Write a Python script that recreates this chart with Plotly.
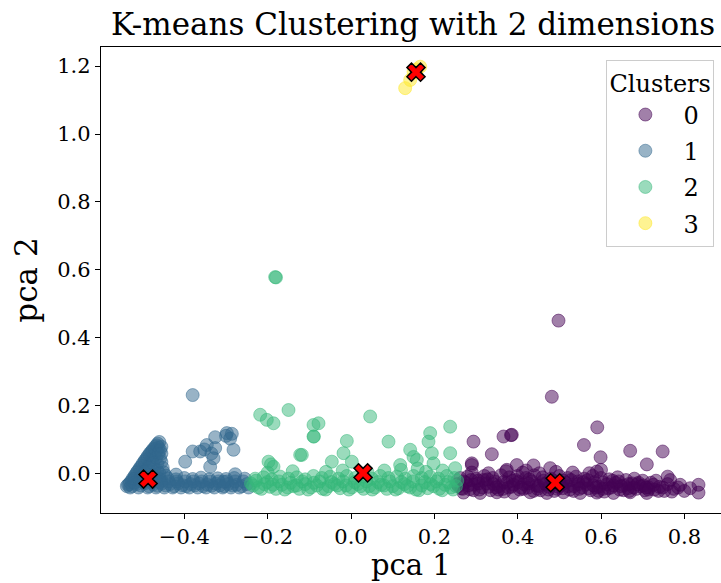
import plotly.graph_objects as go

# ---- cluster members (pca 1, pca 2) ----
cluster0_points = [
    # dense band
    (0.255, -0.030), (0.265, -0.042), (0.275, -0.025), (0.285, -0.045), (0.295, -0.032),
    (0.305, -0.020), (0.315, -0.040), (0.325, -0.028), (0.335, -0.048), (0.345, -0.022),
    (0.355, -0.036), (0.365, -0.044), (0.375, -0.026), (0.385, -0.038), (0.395, -0.018),
    (0.405, -0.046), (0.415, -0.030), (0.425, -0.040), (0.435, -0.022), (0.445, -0.034),
    (0.455, -0.048), (0.465, -0.028), (0.475, -0.038), (0.485, -0.020), (0.495, -0.044),
    (0.505, -0.032), (0.515, -0.026), (0.525, -0.046), (0.535, -0.036), (0.545, -0.022),
    (0.555, -0.040), (0.565, -0.030), (0.575, -0.048), (0.585, -0.024), (0.595, -0.038),
    (0.605, -0.044), (0.615, -0.030), (0.625, -0.040), (0.635, -0.026), (0.645, -0.046),
    (0.655, -0.034), (0.665, -0.042), (0.675, -0.028), (0.685, -0.044), (0.695, -0.036),
    (0.705, -0.048), (0.715, -0.040), (0.728, -0.046), (0.740, -0.038), (0.752, -0.050),
    (0.262, -0.012), (0.280, -0.008), (0.300, -0.014), (0.320, -0.006), (0.340, -0.012),
    (0.360, -0.004), (0.380, -0.010), (0.400, -0.006), (0.420, -0.012), (0.440, -0.004),
    (0.460, -0.010), (0.480, -0.014), (0.500, -0.006), (0.520, -0.012), (0.540, -0.008),
    (0.560, -0.014), (0.580, -0.006), (0.600, -0.012), (0.620, -0.016), (0.640, -0.010),
    (0.660, -0.018), (0.680, -0.014), (0.700, -0.020), (0.720, -0.026),
    (0.270, -0.055), (0.310, -0.056), (0.350, -0.054), (0.390, -0.056), (0.430, -0.054),
    (0.470, -0.056), (0.510, -0.054), (0.550, -0.056), (0.590, -0.055), (0.630, -0.056),
    (0.670, -0.054), (0.710, -0.056), (0.760, -0.030), (0.775, -0.044),
    (0.290, 0.004), (0.330, 0.002), (0.372, 0.008), (0.412, 0.004), (0.452, 0.002),
    (0.492, 0.006), (0.532, 0.004), (0.572, 0.002),
    (0.258, -0.036), (0.270, -0.022), (0.282, -0.034), (0.294, -0.048), (0.306, -0.028),
    (0.318, -0.018), (0.330, -0.038), (0.342, -0.030), (0.354, -0.046), (0.366, -0.024),
    (0.378, -0.040), (0.390, -0.032), (0.402, -0.024), (0.414, -0.044), (0.426, -0.028),
    (0.438, -0.050), (0.450, -0.036), (0.462, -0.020), (0.474, -0.046), (0.486, -0.030),
    (0.498, -0.038), (0.510, -0.020), (0.522, -0.036), (0.534, -0.050), (0.546, -0.030),
    (0.558, -0.024), (0.570, -0.042), (0.582, -0.034), (0.594, -0.050), (0.606, -0.026),
    (0.618, -0.042), (0.630, -0.034), (0.642, -0.022), (0.654, -0.048), (0.666, -0.030),
    (0.678, -0.040), (0.690, -0.026), (0.702, -0.034), (0.714, -0.046), (0.726, -0.032),
    (0.738, -0.050), (0.748, -0.040),
    (0.268, -0.044), (0.288, -0.018), (0.308, -0.046), (0.328, -0.016), (0.348, -0.040),
    (0.368, -0.052), (0.388, -0.020), (0.408, -0.040), (0.428, -0.016), (0.448, -0.044),
    (0.468, -0.030), (0.488, -0.050), (0.508, -0.042), (0.528, -0.018), (0.548, -0.044),
    (0.568, -0.018), (0.588, -0.040), (0.608, -0.052), (0.628, -0.020), (0.648, -0.036),
    (0.668, -0.050), (0.688, -0.030), (0.708, -0.040), (0.732, -0.020), (0.770, -0.052),
    (0.785, -0.040),
    # sparse points above the band
    (0.498, 0.451), (0.482, 0.227), (0.591, 0.137), (0.559, 0.085), (0.599, 0.049),
    (0.670, 0.068), (0.748, 0.066), (0.710, 0.028), (0.294, 0.095), (0.366, 0.110),
    (0.384, 0.114), (0.338, 0.058), (0.438, 0.025), (0.478, 0.017), (0.398, 0.026),
    (0.590, 0.007), (0.766, -0.018), (0.790, -0.032), (0.834, -0.032), (0.834, -0.055),
    (0.814, -0.042), (0.290, 0.026), (0.386, 0.115), (0.290, 0.031), (0.374, 0.012),
    (0.600, 0.012), (0.420, 0.010), (0.760, -0.008), (0.800, -0.050),
]

cluster1_points = [
    # left wedge
    (-0.538, -0.036), (-0.530, -0.025), (-0.524, -0.014), (-0.518, -0.003), (-0.512, 0.008),
    (-0.506, 0.019), (-0.500, 0.030), (-0.494, 0.041), (-0.488, 0.052), (-0.482, 0.062),
    (-0.476, 0.071), (-0.470, 0.080), (-0.464, 0.089), (-0.460, 0.094),
    (-0.512, -0.020), (-0.500, -0.005), (-0.492, 0.012), (-0.485, 0.025), (-0.478, 0.040),
    (-0.472, 0.055), (-0.466, 0.068), (-0.462, 0.078), (-0.490, -0.018), (-0.480, -0.002),
    (-0.472, 0.014), (-0.465, 0.030), (-0.458, 0.046), (-0.470, -0.015), (-0.460, 0.002),
    (-0.452, 0.018), (-0.455, -0.020), (-0.445, -0.005),
    (-0.532, -0.030), (-0.526, -0.020), (-0.520, -0.008), (-0.514, 0.004), (-0.508, 0.014),
    (-0.502, 0.024), (-0.496, 0.036), (-0.490, 0.046), (-0.484, 0.057), (-0.478, 0.066),
    (-0.472, 0.074), (-0.466, 0.084), (-0.505, -0.010), (-0.495, 0.006), (-0.485, 0.018),
    (-0.475, 0.032), (-0.468, 0.048), (-0.462, 0.060), (-0.458, 0.070), (-0.455, 0.080),
    (-0.475, -0.005), (-0.465, 0.010), (-0.455, 0.035), (-0.450, 0.005), (-0.455, 0.060),
    # band
    (-0.535, -0.032), (-0.525, -0.036), (-0.515, -0.030), (-0.505, -0.034), (-0.495, -0.028),
    (-0.485, -0.036), (-0.475, -0.031), (-0.465, -0.035), (-0.455, -0.029), (-0.445, -0.034),
    (-0.435, -0.030), (-0.425, -0.036), (-0.415, -0.028), (-0.405, -0.033), (-0.395, -0.036),
    (-0.385, -0.030), (-0.375, -0.034), (-0.365, -0.028), (-0.355, -0.036), (-0.345, -0.031),
    (-0.335, -0.035), (-0.325, -0.029), (-0.315, -0.034), (-0.305, -0.036), (-0.295, -0.030),
    (-0.285, -0.034), (-0.275, -0.032), (-0.262, -0.036), (-0.250, -0.030),
    (-0.520, -0.014), (-0.500, -0.016), (-0.480, -0.012), (-0.460, -0.015), (-0.440, -0.013),
    (-0.420, -0.016), (-0.400, -0.012), (-0.380, -0.015), (-0.360, -0.011), (-0.340, -0.016),
    (-0.320, -0.013), (-0.300, -0.015), (-0.280, -0.012), (-0.255, -0.014),
    (-0.530, -0.040), (-0.520, -0.026), (-0.510, -0.040), (-0.498, -0.024), (-0.488, -0.040),
    (-0.478, -0.024), (-0.468, -0.040), (-0.458, -0.024), (-0.448, -0.040), (-0.438, -0.022),
    (-0.428, -0.040), (-0.418, -0.022), (-0.408, -0.040), (-0.398, -0.022), (-0.388, -0.040),
    (-0.378, -0.022), (-0.368, -0.040), (-0.358, -0.022), (-0.348, -0.040), (-0.338, -0.022),
    (-0.328, -0.040), (-0.318, -0.022), (-0.308, -0.040), (-0.298, -0.022), (-0.288, -0.040),
    (-0.278, -0.022), (-0.268, -0.040), (-0.258, -0.022), (-0.246, -0.040),
    # sparse points above the band
    (-0.380, 0.232), (-0.326, 0.108), (-0.298, 0.120), (-0.286, 0.118), (-0.290, 0.104),
    (-0.282, 0.071), (-0.346, 0.085), (-0.326, 0.076), (-0.380, 0.066), (-0.362, 0.066),
    (-0.330, 0.046), (-0.398, 0.036), (-0.338, 0.021), (-0.278, -0.001), (-0.306, -0.023),
    (-0.352, 0.072), (-0.335, 0.060), (-0.300, 0.112), (-0.420, -0.002),
]

cluster2_points = [
    # band
    (-0.235, -0.034), (-0.222, -0.040), (-0.208, -0.030), (-0.194, -0.038), (-0.180, -0.044),
    (-0.166, -0.032), (-0.152, -0.040), (-0.138, -0.036), (-0.124, -0.044), (-0.110, -0.030),
    (-0.096, -0.040), (-0.082, -0.034), (-0.068, -0.044), (-0.054, -0.036), (-0.040, -0.030),
    (-0.026, -0.042), (-0.012, -0.034), (0.002, -0.040), (0.016, -0.030), (0.030, -0.044),
    (0.044, -0.036), (0.058, -0.040), (0.072, -0.032), (0.086, -0.044), (0.100, -0.036),
    (0.114, -0.042), (0.128, -0.030), (0.142, -0.040), (0.156, -0.046), (0.170, -0.034),
    (0.184, -0.042), (0.198, -0.036), (0.212, -0.044), (0.226, -0.032), (0.240, -0.040),
    (0.252, -0.036),
    (-0.230, -0.014), (-0.210, -0.010), (-0.190, -0.016), (-0.170, -0.008), (-0.150, -0.014),
    (-0.130, -0.010), (-0.110, -0.016), (-0.090, -0.006), (-0.070, -0.012), (-0.050, -0.008),
    (-0.030, -0.014), (-0.010, -0.006), (0.010, -0.012), (0.030, -0.008), (0.050, -0.014),
    (0.070, -0.006), (0.090, -0.012), (0.110, -0.008), (0.130, -0.014), (0.150, -0.006),
    (0.170, -0.012), (0.190, -0.008), (0.210, -0.014), (0.230, -0.006), (0.248, -0.012),
    (-0.240, -0.028), (-0.228, -0.020), (-0.215, -0.044), (-0.201, -0.024), (-0.187, -0.032),
    (-0.173, -0.022), (-0.159, -0.046), (-0.145, -0.026), (-0.131, -0.034), (-0.117, -0.022),
    (-0.103, -0.046), (-0.089, -0.026), (-0.075, -0.022), (-0.061, -0.046), (-0.047, -0.024),
    (-0.033, -0.034), (-0.019, -0.022), (-0.005, -0.046), (0.009, -0.024), (0.023, -0.036),
    (0.037, -0.022), (0.051, -0.046), (0.065, -0.024), (0.079, -0.034), (0.093, -0.022),
    (0.107, -0.046), (0.121, -0.024), (0.135, -0.036), (0.149, -0.022), (0.163, -0.048),
    (0.177, -0.024), (0.191, -0.030), (0.205, -0.022), (0.219, -0.048), (0.233, -0.024),
    (0.245, -0.046), (0.255, -0.020),
    (-0.200, 0.004), (-0.140, 0.008), (-0.060, 0.006), (0.040, 0.004), (0.080, 0.010),
    (0.120, 0.012), (0.180, 0.006), (0.220, 0.010), (0.160, 0.016), (-0.020, 0.010),
    # sparse points above the band
    (-0.182, 0.579), (-0.180, 0.578),
    (-0.218, 0.174), (-0.202, 0.159), (-0.186, 0.149), (-0.150, 0.188), (-0.090, 0.144),
    (-0.090, 0.110), (-0.122, 0.056), (-0.198, 0.036), (-0.186, 0.021), (-0.118, 0.056),
    (-0.078, 0.149), (-0.089, 0.110), (-0.010, 0.097), (-0.018, 0.061), (-0.046, 0.036),
    (0.002, 0.036), (0.046, 0.169), (0.090, 0.095), (0.118, 0.026), (0.142, 0.071),
    (0.158, 0.041), (0.190, 0.120), (0.186, 0.095), (0.194, 0.061), (0.238, 0.139),
    (0.238, 0.061), (0.198, 0.031), (0.250, 0.017), (-0.192, 0.028), (0.150, 0.050),
]

cluster3_points = [
    (0.130, 1.135), (0.142, 1.159), (0.166, 1.198), (0.150, 1.183), (0.158, 1.190),
]

# ---- k-means centroids ----
centroid_x = [0.490, -0.487, 0.029, 0.156]
centroid_y = [-0.026, -0.015, 0.003, 1.182]

cluster_labels = ["0", "1", "2", "3"]
cluster_colors = [(68, 1, 84), (49, 104, 142), (53, 183, 121), (253, 231, 37)]
cluster_points = [cluster0_points, cluster1_points, cluster2_points, cluster3_points]

x_ticks = [-0.4, -0.2, 0.0, 0.2, 0.4, 0.6, 0.8]
y_ticks = [0.0, 0.2, 0.4, 0.6, 0.8, 1.0, 1.2]

SERIF = "DejaVu Serif"

fig = go.Figure()

for label, (r, g, b), pts in zip(cluster_labels, cluster_colors, cluster_points):
    xs = [p[0] for p in pts]
    ys = [p[1] for p in pts]
    fig.add_trace(go.Scatter(
        x=xs, y=ys, mode="markers", name=label, legendgroup=label,
        marker=dict(size=13, color=f"rgba({r},{g},{b},0.5)",
                    line=dict(width=1, color=f"rgba({r},{g},{b},0.5)")),
    ))

fig.add_trace(go.Scatter(
    x=centroid_x, y=centroid_y, mode="markers", showlegend=False,
    marker=dict(symbol="x", size=16, color="red",
                line=dict(width=1.5, color="black")),
))

axis_common = dict(
    showgrid=False, zeroline=False, showline=True, linecolor="black", linewidth=1.3,
    ticks="outside", ticklen=5, tickwidth=1.2, tickcolor="black",
    tickfont=dict(family=SERIF, size=21, color="black"),
    tickformat=".1f",
)

fig.update_layout(
    width=721, height=583,
    margin=dict(l=101, r=0, t=47, b=70),
    paper_bgcolor="white", plot_bgcolor="white",
    font=dict(family=SERIF, color="black"),
    title=dict(text="K-means Clustering with 2 dimensions",
               font=dict(family=SERIF, size=31, color="black"),
               x=(101 + 725) / 2 / 721, xanchor="center",
               yref="container", y=1 - 13 / 583, yanchor="top"),
    xaxis=dict(range=[-0.6, 0.888], tickvals=x_ticks, mirror=True, **axis_common),
    yaxis=dict(range=[-0.115, 1.256], tickvals=y_ticks, mirror=False,
               title=dict(text="pca 2", font=dict(family=SERIF, size=31), standoff=10),
               **axis_common),
    legend=dict(title=dict(text="Clusters", font=dict(family=SERIF, size=24), side="top center"),
                font=dict(family=SERIF, size=24),
                tracegroupgap=2, itemwidth=66,
                x=0.989, xanchor="right", y=0.972, yanchor="top",
                bgcolor="white", bordercolor="#cccccc", borderwidth=1.2),
)

# x-axis label, sitting on the bottom edge below the tick labels
fig.add_annotation(
    text="pca 1", xref="paper", yref="paper", x=0.5, y=-(582.5 - 513) / 466,
    xanchor="center", yanchor="bottom", showarrow=False, borderpad=0,
    font=dict(family=SERIF, size=29, color="black"),
)

fig.write_html("out.html")
